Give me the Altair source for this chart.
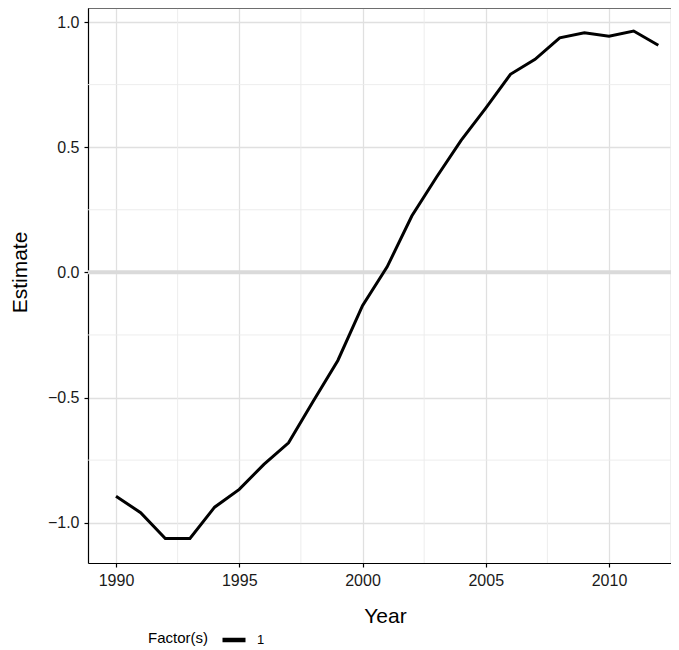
import altair as alt
import pandas as pd

years = list(range(1990, 2013))
estimates = [-0.894, -0.960, -1.063, -1.063, -0.938, -0.867, -0.767, -0.681,
             -0.515, -0.352, -0.133, 0.022, 0.225, 0.380, 0.527, 0.656,
             0.791, 0.851, 0.937, 0.957, 0.943, 0.964, 0.907]
factor_labels = ["1"] * len(years)

x_major = [1990, 1995, 2000, 2005, 2010]
x_minor = [1992.5, 1997.5, 2002.5, 2007.5, 2012.5]
y_major = [-1.0, -0.5, 0.0, 0.5, 1.0]
y_minor = [-0.75, -0.25, 0.25, 0.75]

X_DOMAIN = [1988.864, 2012.515]
Y_DOMAIN = [-1.161, 1.056]
FONT = "Liberation Sans"

df = pd.DataFrame({"Year": years, "Estimate": estimates, "Factor": factor_labels})
xminor_df = pd.DataFrame({"Year": x_minor})
yminor_df = pd.DataFrame({"Estimate": y_minor})
zero_df = pd.DataFrame({"Estimate": [0.0]})

xs = alt.Scale(domain=X_DOMAIN, nice=False, zero=False)
ys = alt.Scale(domain=Y_DOMAIN, nice=False, zero=False)

x_axis = alt.Axis(
    values=x_major, format="d", title="Year", grid=True,
    gridColor="#e0e0e0", gridWidth=1.3,
    tickSize=4, tickColor="black", tickWidth=1.2,
    domainColor="black", domainWidth=1.2,
    labelColor="#1a1a1a", labelFontSize=16, labelPadding=5, labelFont=FONT,
    titleFont=FONT, titleFontSize=21, titleFontWeight="normal",
    titleColor="black", titleX=297, titleY=53, titleBaseline="middle",
    titleAlign="center",
)
y_axis = alt.Axis(
    values=y_major, format=".1f", title="Estimate", grid=True,
    gridColor="#e0e0e0", gridWidth=1.3,
    tickSize=4, tickColor="black", tickWidth=1.2,
    domainColor="black", domainWidth=1.2,
    labelColor="#1a1a1a", labelFontSize=16, labelPadding=5, labelFont=FONT,
    titleFont=FONT, titleFontSize=21, titleFontWeight="normal",
    titleColor="black", titleX=-68, titleY=264, titleBaseline="middle",
    titleAlign="center", titleAngle=270,
)

x_minor_layer = alt.Chart(xminor_df).mark_rule(color="#ebebeb", strokeWidth=0.9).encode(
    x=alt.X("Year:Q", scale=xs, axis=x_axis)
)
y_minor_layer = alt.Chart(yminor_df).mark_rule(color="#ebebeb", strokeWidth=0.9).encode(
    y=alt.Y("Estimate:Q", scale=ys, axis=y_axis)
)
zero_layer = alt.Chart(zero_df).mark_rule(color="#dadada", strokeWidth=4).encode(
    y=alt.Y("Estimate:Q", scale=ys, axis=y_axis)
)

top_border = alt.Chart(pd.DataFrame({"a": [0]})).mark_rule(
    color="black", strokeWidth=1
).encode(y=alt.value(0))

line = alt.Chart(df).mark_line(strokeWidth=3).encode(
    x=alt.X("Year:Q", scale=xs, axis=x_axis),
    y=alt.Y("Estimate:Q", scale=ys, axis=y_axis),
    color=alt.Color(
        "Factor:N",
        scale=alt.Scale(range=["black"]),
        legend=alt.Legend(
            title="Factor(s)", orient="none", legendX=60, legendY=618,
            direction="horizontal", titleOrient="left",
            titleFont=FONT, titleFontSize=15, titleFontWeight="normal",
            titleColor="black", titlePadding=12,
            labelFont=FONT, labelFontSize=13, labelColor="black", labelOffset=9,
            symbolType="stroke", symbolStrokeWidth=4.5, symbolSize=529,
        ),
    ),
)

chart = alt.layer(x_minor_layer, y_minor_layer, zero_layer, line, top_border).properties(
    width=583,
    height=555,
    autosize=alt.AutoSizeParams(type="none"),
    padding={"left": 80, "top": 0, "right": 0, "bottom": 84},
).configure_view(stroke=None).configure(background="white")

chart.save("out.html", embed_options={"renderer": "svg", "actions": False})
